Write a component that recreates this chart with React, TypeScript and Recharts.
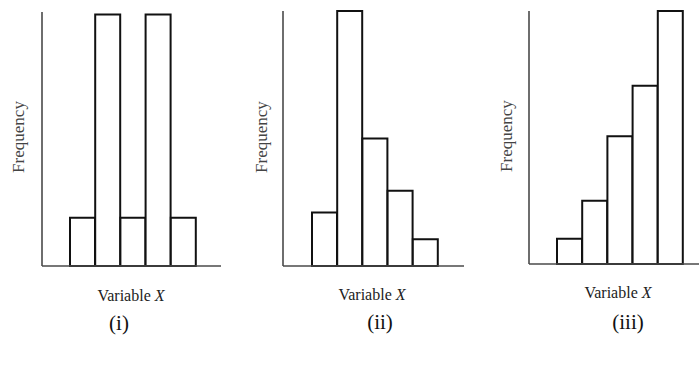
import React from "react";
import { BarChart, Bar, XAxis, YAxis } from "recharts";

// ==================== Data ====================

const binsI = ["b1", "b2", "b3", "b4", "b5"];
const freqI = [1.9, 9.9, 1.9, 9.9, 1.9];

const binsII = ["b1", "b2", "b3", "b4", "b5"];
const freqII = [2.1, 10, 5, 2.95, 1.05];

const binsIII = ["b1", "b2", "b3", "b4", "b5"];
const freqIII = [1.0, 2.5, 5.05, 7.05, 10];

const panelTags = ["(i)", "(ii)", "(iii)"];
const yLabel = "Frequency";
const xLabel = "Variable";
const xVar = "X";

// ==================== Panel ====================

interface PanelProps {
    bins: string[];
    values: number[];
    left: number;
    width: number;
    margin: { top: number; right: number; bottom: number; left: number };
    padding: { left: number; right: number };
}

const AXIS = "#4a4a4a";

const Panel: React.FC<PanelProps> = ({ bins, values, left, width, margin, padding }) => {
    const data = bins.map((b, i) => ({ bin: b, freq: values[i] }));
    // axes take 1px each, so the margins are shifted by one
    const m = { ...margin, left: margin.left - 1, bottom: margin.bottom - 1 };
    return (
        <div style={{ position: "absolute", left, top: 0 }}>
            <BarChart width={width} height={367} data={data} margin={m} barCategoryGap={0}>
                <XAxis
                    dataKey="bin"
                    height={1}
                    tick={false}
                    tickLine={false}
                    padding={padding}
                    axisLine={{ stroke: AXIS, strokeWidth: 1.6 }}
                />
                <YAxis
                    width={1}
                    tick={false}
                    tickLine={false}
                    domain={[0, 10]}
                    axisLine={{ stroke: AXIS, strokeWidth: 1.6 }}
                />
                <Bar dataKey="freq" fill="#fff" stroke="#111" strokeWidth={2} isAnimationActive={false} />
            </BarChart>
        </div>
    );
};

// ==================== App ====================

const App: React.FC = () => {
    const serif = "Liberation Serif, Times New Roman, serif";
    const freqPos = [
        { x: 24, y: 137 },
        { x: 267, y: 137 },
        { x: 512, y: 136 },
    ];
    const varPos = [
        { x: 131, y: 301 },
        { x: 372, y: 300 },
        { x: 618, y: 298 },
    ];
    const tagPos = [
        { x: 119, y: 330 },
        { x: 380, y: 329 },
        { x: 628, y: 329 },
    ];
    return (
        <div style={{ position: "absolute", left: 0, top: 0, width: 699, height: 367, background: "#fff" }}>
            <Panel bins={binsI} values={freqI} left={0} width={240}
                margin={{ top: 12, right: 19, bottom: 101, left: 42 }} padding={{ left: 28, right: 25 }} />
            <Panel bins={binsII} values={freqII} left={240} width={230}
                margin={{ top: 11, right: 6, bottom: 101, left: 43 }} padding={{ left: 29, right: 26 }} />
            <Panel bins={binsIII} values={freqIII} left={470} width={229}
                margin={{ top: 11, right: 0, bottom: 103, left: 59 }} padding={{ left: 28, right: 16 }} />
            <svg width={699} height={367} style={{ position: "absolute", left: 0, top: 0, pointerEvents: "none" }}>
                {freqPos.map((p, i) => (
                    <text key={`f-${i}`} x={p.x} y={p.y} transform={`rotate(-90, ${p.x}, ${p.y})`}
                        textAnchor="middle" fontFamily={serif} fontSize={17} fill="#444">
                        {yLabel}
                    </text>
                ))}
                {varPos.map((p, i) => (
                    <text key={`v-${i}`} x={p.x} y={p.y} textAnchor="middle" fontFamily={serif} fontSize={16} fill="#222">
                        {xLabel} <tspan fontStyle="italic">{xVar}</tspan>
                    </text>
                ))}
                {tagPos.map((p, i) => (
                    <text key={`t-${i}`} x={p.x} y={p.y} textAnchor="middle" fontFamily={serif} fontSize={21} fill="#111">
                        {panelTags[i]}
                    </text>
                ))}
            </svg>
        </div>
    );
};

export default App;
